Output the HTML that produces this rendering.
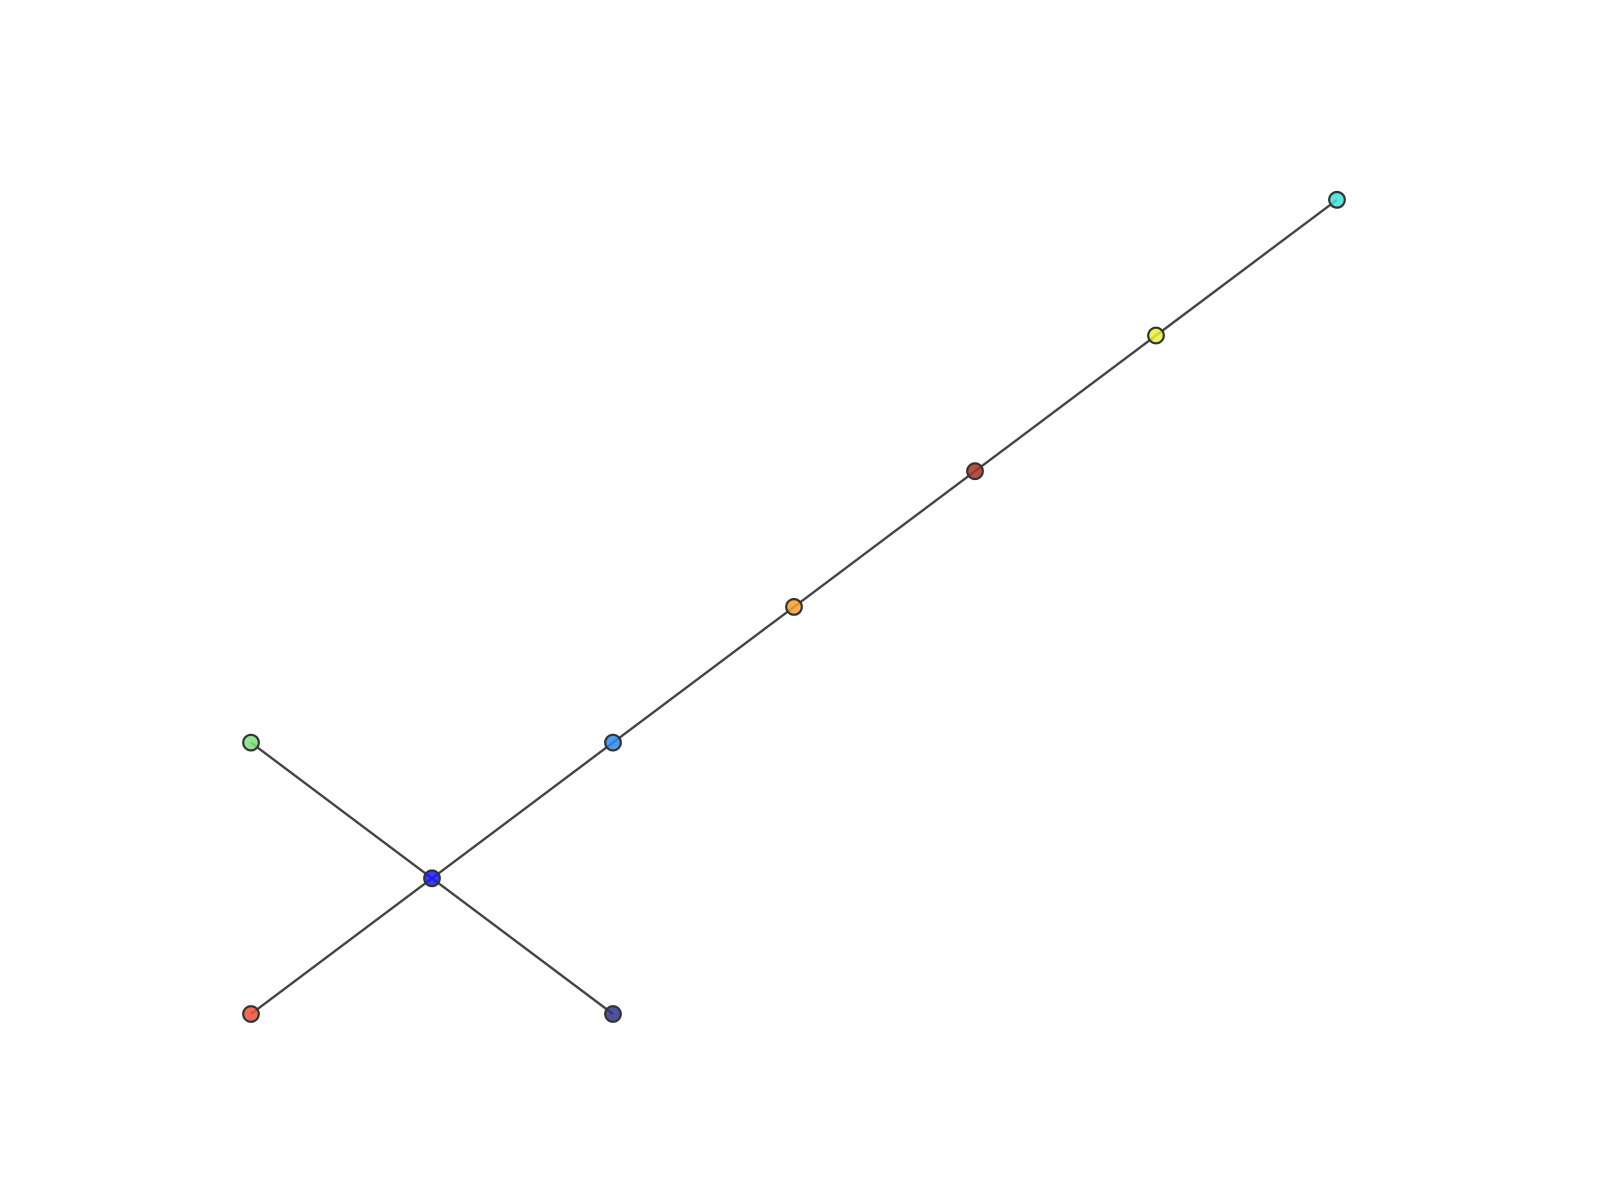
<!DOCTYPE html>
<html><head><meta charset="utf-8"><style>
html,body{margin:0;padding:0;background:#fff;}
svg{display:block;}
</style></head><body>
<svg id="chart" width="1600" height="1200" viewBox="0 0 1600 1200" xmlns="http://www.w3.org/2000/svg">
<g id="edges"></g>
<g id="nodes"></g>
</svg>
<script>
const nodeIds = ["a","b","c","d","e","f","g","h","i"];
const nodeX = [0,0,1,2,2,3,4,5,6];
const nodeY = [0,2,1,0,2,3,4,5,6];
const nodeColors = ["#f0503a","#7ee07e","#1a1aff","#33338a","#2a8cf0","#f7a030","#a83228","#e6f03a","#3ee0d8"];
const edgeFrom = ["a","c","c","c","e","f","g","h"];
const edgeTo   = ["c","b","d","e","f","g","h","i"];

const sx = v => 251 + v * 181;
const sy = v => 1014 - v * 135.7;
const ns = "http://www.w3.org/2000/svg";
const eg = document.getElementById("edges");
const ng = document.getElementById("nodes");
const idx = id => nodeIds.indexOf(id);
for (let k = 0; k < edgeFrom.length; k++) {
  const i = idx(edgeFrom[k]), j = idx(edgeTo[k]);
  const l = document.createElementNS(ns, "line");
  l.setAttribute("x1", sx(nodeX[i])); l.setAttribute("y1", sy(nodeY[i]));
  l.setAttribute("x2", sx(nodeX[j])); l.setAttribute("y2", sy(nodeY[j]));
  l.setAttribute("stroke", "#444"); l.setAttribute("stroke-width", "2.4");
  
  
  eg.appendChild(l);
}
for (let i = 0; i < nodeIds.length; i++) {
  const c = document.createElementNS(ns, "circle");
  c.setAttribute("cx", sx(nodeX[i])); c.setAttribute("cy", sy(nodeY[i]));
  c.setAttribute("r", "7.8");
  c.setAttribute("fill", nodeColors[i]); c.setAttribute("fill-opacity", "0.85");
  c.setAttribute("stroke", "#333"); c.setAttribute("stroke-width", "2.2");
  
  
  ng.appendChild(c);
}
</script>
</body></html>
